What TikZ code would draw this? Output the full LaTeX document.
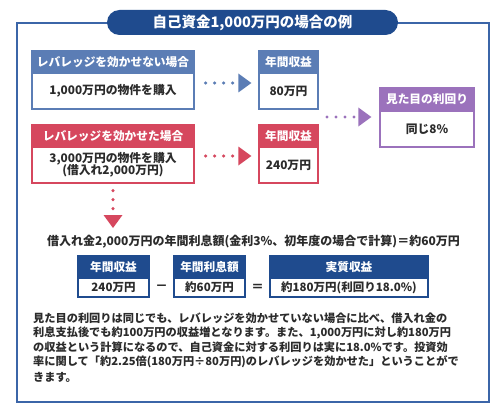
\documentclass[tikz,border=0pt]{standalone}
\usepackage{fontspec}
\setmainfont{Noto Sans CJK JP}
\usetikzlibrary{arrows.meta}
\XeTeXlinebreaklocale "ja"
\XeTeXlinebreakskip=0pt plus 3pt
\definecolor{hblue}{HTML}{5B7DB5}
\definecolor{hred}{HTML}{D6475E}
\definecolor{hpurple}{HTML}{9B72BC}
\definecolor{dblue}{HTML}{1F4B8E}
\definecolor{fblue}{HTML}{3B65A8}
\definecolor{txt}{HTML}{2B2B2B}
\newcommand{\fs}[1]{\fontsize{#1}{#1}\selectfont}
\begin{document}
\begin{tikzpicture}[x=1pt,y=-1pt,
  hdr/.style={fill=#1, draw=#1, line width=1.3pt, inner sep=0pt, minimum height=22pt, text=white, font=\bfseries\fs{11.7}},
  bodybox/.style={draw=#1, fill=white, line width=1.3pt, inner sep=0pt, minimum height=36pt, text=txt, font=\bfseries\fs{11.8}, align=center},
  sbody/.style={draw=#1, fill=white, line width=1.3pt, inner sep=0pt, minimum height=19pt, text=txt, font=\bfseries\fs{11.5}},
  dotline/.style={draw=#1, line width=3.4pt, line cap=round, dash pattern=on 0pt off 9pt,
     -{Triangle[length=13pt,width=19pt,line width=0pt]}},
  para/.style={anchor=west, inner sep=0pt, text=txt, font=\bfseries\fs{11.2}},
  op/.style={inner sep=0pt, text=txt, font=\bfseries\fs{12.5}}
]
\useasboundingbox (0,0) rectangle (500,417);
\fill[white] (0,0) rectangle (500,417);
% frame
\draw[fblue, line width=1.3pt] (17,23) rectangle (489,402);
% title
\node[fill=dblue, rounded corners=12.5pt, minimum width=291pt, minimum height=25pt, inner sep=0pt,
      text=white, font=\bfseries\fs{14.5}] (title) at (252.5,22.5) {自己資金1,000万円の場合の例};
% no leverage row
\node[hdr=hblue, minimum width=162pt] (b1h) at (113,62) {レバレッジを効かせない場合};
\node[bodybox=hblue, minimum width=162pt] (b1b) at (113,91) {1,000万円の物件を購入};
\node[hdr=hblue, minimum width=59pt] (b2h) at (288.5,62) {年間収益};
\node[bodybox=hblue, minimum width=59pt] (b2b) at (288.5,91) {80万円};
% leverage row
\node[hdr=hred, minimum width=162pt] (r1h) at (113,136) {レバレッジを効かせた場合};
\node[bodybox=hred, minimum width=162pt] (r1b) at (113,165) {3,000万円の物件を購入\\[-1.5pt](借入れ2,000万円)};
\node[hdr=hred, minimum width=59pt] (r2h) at (288.5,136) {年間収益};
\node[bodybox=hred, minimum width=59pt] (r2b) at (288.5,165) {240万円};
% purple
\node[hdr=hpurple, minimum width=94pt, minimum height=23pt] (ph) at (427,99.5) {見た目の利回り};
\node[bodybox=hpurple, minimum width=94pt] (pb) at (427,129) {同じ8\%};
% connectors
\draw[dotline=hblue, shorten <=11pt, shorten >=7pt] ([yshift=8pt]b1b.east) -- ([yshift=8pt]b2b.west);
\draw[dotline=hred, shorten <=11pt, shorten >=7pt] ([yshift=9pt]r1b.east) -- ([yshift=9pt]r2b.west);
\coordinate (pstart) at (327,117);
\draw[dotline=hpurple, shorten >=8pt] (pstart) -- ([yshift=12pt]pb.west);
\coordinate (vend) at (113,228);
\draw[dotline=hred, shorten <=7pt] (r1b.south) -- (vend);
% interest line
\node[inner sep=0pt, text=txt, font=\bfseries\fs{12}] (intr) at (253.5,242)
  {借入れ金2,000万円の年間利息額(金利3\%、初年度の場合で計算)＝約60万円};
% calculation boxes
\node[hdr=dblue, minimum width=71pt] (ah) at (113.5,267) {年間収益};
\node[sbody=dblue, minimum width=71pt] (ab) at (113.5,287.5) {240万円};
\node[hdr=dblue, minimum width=71pt] (bh) at (209.5,267) {年間利息額};
\node[sbody=dblue, minimum width=71pt] (bb) at (209.5,287.5) {約60万円};
\node[hdr=dblue, minimum width=158pt] (ch) at (349,267) {実質収益};
\node[sbody=dblue, minimum width=158pt] (cb) at (349,287.5) {約180万円(利回り18.0\%)};
\node[op] (minus) at (161.5,288) {－};
\node[op] (eq) at (257.5,288) {＝};
% paragraph
\node[para] (p1) at (33,318) {\makebox[435pt][s]{見た目の利回りは同じでも、レバレッジを効かせていない場合に比べ、借入れ金の}};
\node[para] (p2) at (33,332.5) {\makebox[435pt][s]{利息支払後でも約100万円の収益増となります。また、1,000万円に対し約180万円}};
\node[para] (p3) at (33,347.5) {\makebox[435pt][s]{の収益という計算になるので、自己資金に対する利回りは実に18.0\%です。投資効}};
\node[para] (p4) at (33,362) {\makebox[435pt][s]{率に関して「約2.25倍(180万円÷80万円)のレバレッジを効かせた」ということがで}};
\node[para] (p5) at (33,377) {きます。};
\end{tikzpicture}
\end{document}
